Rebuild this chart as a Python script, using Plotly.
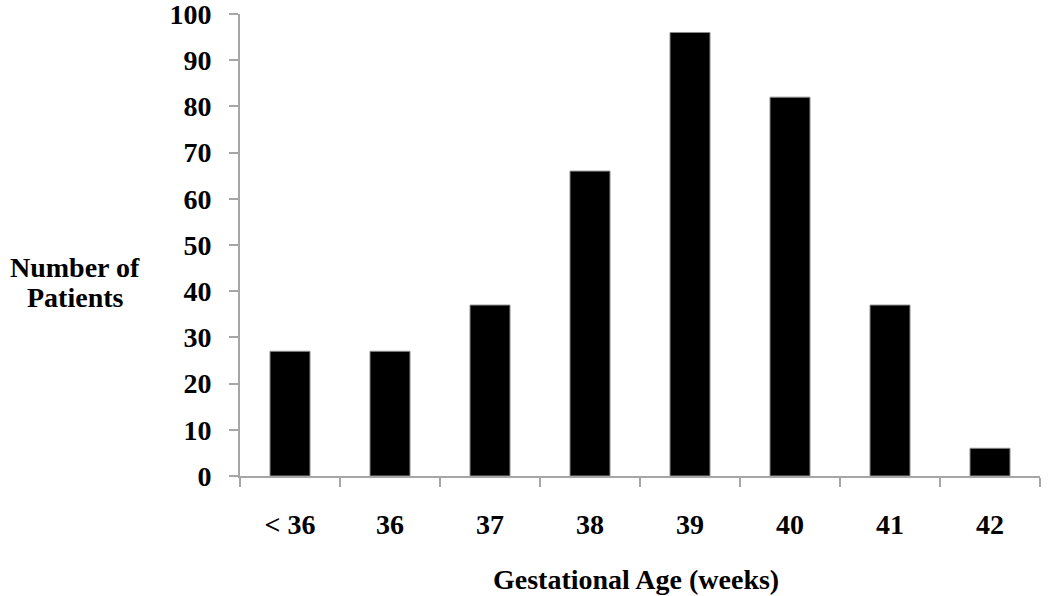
import plotly.graph_objects as go

categories = ["< 36", "36", "37", "38", "39", "40", "41", "42"]
patients = [27, 27, 37, 66, 96, 82, 37, 6]
y_ticks = [0, 10, 20, 30, 40, 50, 60, 70, 80, 90, 100]

FONT = "Liberation Serif, Times New Roman, serif"
AXIS_GRAY = "#a6a6a6"
FS = 28

fig = go.Figure(
    go.Bar(
        x=categories,
        y=patients,
        width=0.4,
        marker=dict(color="black", line=dict(color="#8c8c8c", width=1)),
    )
)

fig.update_layout(
    width=1050,
    height=596,
    margin=dict(l=240, r=10, t=14, b=120),
    paper_bgcolor="white",
    plot_bgcolor="white",
    showlegend=False,
    font=dict(family=FONT, size=FS, color="black"),
    annotations=[
        dict(
            text="<b>Number of</b>",
            xref="paper", yref="paper",
            x=-0.206, y=0.452,
            xanchor="center", yanchor="middle",
            showarrow=False,
            font=dict(family=FONT, size=FS, color="black"),
        ),
        dict(
            text="<b>Patients</b>",
            xref="paper", yref="paper",
            x=-0.206, y=0.387,
            xanchor="center", yanchor="middle",
            showarrow=False,
            font=dict(family=FONT, size=FS, color="black"),
        ),
        dict(
            text="<b>Gestational Age (weeks)</b>",
            xref="paper", yref="paper",
            x=0.495, y=-0.225,
            xanchor="center", yanchor="middle",
            showarrow=False,
            font=dict(family=FONT, size=FS, color="black"),
        ),
    ],
)

fig.update_xaxes(
    type="category",
    range=[-0.5, 7.5],
    automargin=False,
    showline=True,
    linecolor=AXIS_GRAY,
    linewidth=2,
    ticks="outside",
    tickson="boundaries",
    ticklen=9,
    tickwidth=2,
    tickcolor=AXIS_GRAY,
    ticklabelstandoff=22,
    tickfont=dict(family=FONT, size=FS, color="black", weight="bold"),
    showgrid=False,
    zeroline=False,
)

fig.update_yaxes(
    range=[0, 100],
    tickvals=y_ticks,
    automargin=False,
    ticklabeloverflow="allow",
    showline=True,
    linecolor=AXIS_GRAY,
    linewidth=2,
    ticks="outside",
    ticklen=9,
    tickwidth=2,
    tickcolor=AXIS_GRAY,
    ticklabelstandoff=12,
    tickfont=dict(family=FONT, size=FS, color="black", weight="bold"),
    showgrid=False,
    zeroline=False,
)

fig.write_html(
    "out.html",
    config={"displayModeBar": False},
    post_script="document.body.style.margin='0px';",
)
